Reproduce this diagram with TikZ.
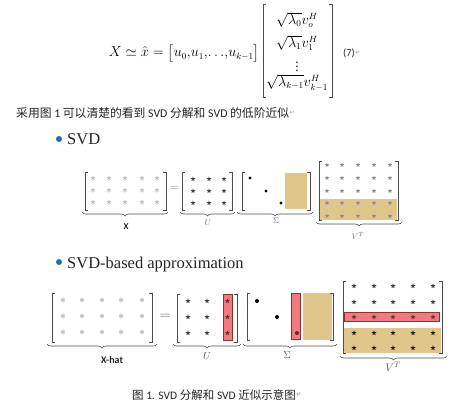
\documentclass[tikz,border=0pt]{standalone}
\usepackage{amsmath}
\usepackage{fontspec}
\setmainfont{Liberation Serif}
\newfontfamily\cjk{Noto Sans CJK SC}
\newfontfamily\calfont{Carlito}
\newfontfamily\symfont{DejaVu Sans}
\usetikzlibrary{shapes.geometric,decorations.pathreplacing}
\definecolor{tan}{RGB}{224,198,138}
\definecolor{redfill}{RGB}{240,122,126}
\definecolor{redline}{RGB}{140,50,50}
\definecolor{bulletblue}{RGB}{30,110,190}
\definecolor{txt}{RGB}{35,35,35}
\newcommand\mybrk[4]{%
  \draw[brk] ({#1+3},#2) -| (#1,#4) -- ({#1+3},#4);
  \draw[brk] ({#3-3},#2) -| (#3,#4) -- ({#3-3},#4);}
\begin{document}
\begin{tikzpicture}[x=1pt,y=-1pt,
  brk/.style={line width=0.6pt, draw=black!70},
  brc/.style={decorate, decoration={brace,mirror,amplitude=4pt}, line width=0.6pt, draw=black!70},
  st/.style={star, star points=5, star point ratio=2.4, fill=black!75, draw=none, inner sep=0pt, minimum size=5.5pt},
  lst/.style={st, fill=black!45, minimum size=4.8pt},
  rst/.style={st, fill=redline!90!black},
  gst/.style={text=black!50, inner sep=0pt, font=\fontsize{11}{11}\selectfont},
  dotm/.style={circle, fill=black, inner sep=0pt, minimum size=3.2pt},
  ret/.style={text=black!45, inner sep=0pt, font=\symfont\fontsize{6}{6}\selectfont, anchor=west},
  eq/.style={font=\fontsize{13.5}{16}\selectfont, inner sep=0pt},
  ent/.style={font=\fontsize{13.5}{15}\selectfont, inner sep=0pt},
  lbl/.style={text=txt, inner sep=0pt}
]
\useasboundingbox (0,0) rectangle (474,412);

% ---------------- equation (7)
\node[eq, anchor=base east] (lhs) at (260,57) {$X \simeq \hat{x} = \bigl[u_0{,}u_1{,}{\ldots}{,}u_{k-1}\bigr]$};
\node[ent] (r0) at (297,20) {$\sqrt{\lambda_0}v_o^H$};
\node[ent] (r1) at (297,43) {$\sqrt{\lambda_1}v_1^H$};
\node[ent] (r2) at (297,64) {$\vdots$};
\node[ent] (r3) at (297,83) {$\sqrt{\lambda_{k-1}}v_{k-1}^H$};
\mybrk{263}{4}{332}{97}
\node[lbl, anchor=west, font=\calfont\fontsize{10.5}{12}\selectfont] (eqno) at (343,53) {(7)};
\node[ret] (ret1) at (eqno.east) {↵};

% ---------------- Chinese line
\node[lbl, anchor=west, font=\calfont\fontsize{11.8}{14}\selectfont] (line1) at (16,113)
  {{\cjk 采用图} 1 {\cjk 可以清楚的看到} SVD {\cjk 分解和} SVD {\cjk 的低阶近似}};
\node[ret] (ret2) at (line1.east) {↵};

% ---------------- bullet SVD
\fill[bulletblue] (59,139) circle (3);
\node[lbl, anchor=base west, font=\fontsize{16.5}{18}\selectfont] (b1) at (67,144.5) {SVD};

% ---- SVD diagram
% X
\mybrk{85}{172}{166}{210}
\foreach \c [count=\i] in {93,109,125,142,157}
  \foreach \r [count=\j] in {179,191,203}
    \node[gst] (xs\i\j) at (\c,\r) {$\ast$};
\draw[brc] (82,212) -- (168,212);
\node[lbl, font=\calfont\bfseries\fontsize{9}{9}\selectfont] (lx) at (126,227) {X};
\node[lbl, text=black!55, font=\fontsize{11}{11}\selectfont] (eq1) at (174,188) {$=$};
% U
\mybrk{182}{172}{232}{210}
\foreach \c [count=\i] in {193,209,224}
  \foreach \r [count=\j] in {179,191,203}
    \node[st, minimum size=5pt] (us\i\j) at (\c,\r) {};
\draw[brc] (180,212) -- (235,212);
\node[lbl, font=\fontsize{8}{8}\selectfont, text=black!60] (lu) at (208,223) {$U$};
% Sigma
\fill[tan] (285,173) rectangle (307,209);
\mybrk{242}{172}{310}{210}
\node[dotm] (sd1) at (250,178) {};
\node[dotm] (sd2) at (266,191) {};
\node[dotm] (sd3) at (281,203) {};
\draw[brc] (237,212) -- (313,212);
\node[lbl, font=\fontsize{8}{8}\selectfont, text=black!60] (ls) at (276,221) {$\Sigma$};
% V^T
\fill[tan] (320,199) rectangle (397,220);
\mybrk{319}{161}{398}{220}
\foreach \c [count=\i] in {327,342,358,374,390}
  \foreach \r [count=\j] in {165,178,191,203,216}
    \node[lst] (vs\i\j) at (\c,\r) {};
\draw[brc] (316,222) -- (402,222);
\node[lbl, font=\fontsize{8}{8}\selectfont, text=black!60] (lv) at (358,236) {$V^T$};

% ---------------- bullet SVD-based approximation
\fill[bulletblue] (59,262) circle (3);
\node[lbl, anchor=base west, font=\fontsize{16.5}{18}\selectfont] (b2) at (67,268) {SVD-based approximation};

% ---- approximation diagram
% X-hat
\mybrk{52}{293}{152}{342}
\foreach \c [count=\i] in {63,82,102,121,142}
  \foreach \r [count=\j] in {301,317,333}
    \node[gst, font=\fontsize{12}{12}\selectfont] (hs\i\j) at (\c,\r) {$\ast$};
\draw[brc] (47,344) -- (157,344);
\node[lbl, font=\calfont\bfseries\fontsize{10}{10}\selectfont] (lxh) at (112,360) {X-hat};
\node[lbl, text=black!60, font=\fontsize{14}{14}\selectfont] (eq2) at (165,317) {$=$};
% U
\filldraw[fill=redfill, draw=redline, line width=0.5pt] (223,294) rectangle (232,340);
\mybrk{177}{294}{237}{342}
\foreach \c [count=\i] in {188,207}
  \foreach \r [count=\j] in {301,317,333}
    \node[st] (ua\i\j) at (\c,\r) {};
\foreach \r [count=\j] in {301,317,333}
    \node[rst] (ur\j) at (227.5,\r) {};
\draw[brc] (173,344) -- (241,344);
\node[lbl, font=\fontsize{10}{10}\selectfont, text=black!65] (lu2) at (207,356) {$U$};
% Sigma
\filldraw[fill=redfill, draw=redline, line width=0.5pt] (291,293) rectangle (300,339);
\fill[tan] (303,293) rectangle (332,340);
\mybrk{247}{293}{333}{340}
\node[dotm, minimum size=4pt] (sa1) at (257,301) {};
\node[dotm, minimum size=4pt] (sa2) at (277,317) {};
\node[dotm, minimum size=4pt, fill=redline!80!black] (sa3) at (297,333) {};
\draw[brc] (243,344) -- (337,344);
\node[lbl, font=\fontsize{10}{10}\selectfont, text=black!65] (ls2) at (287,355) {$\Sigma$};
% V^T
\filldraw[fill=redfill, draw=redline, line width=0.5pt] (344,312) rectangle (439,321);
\fill[tan] (344,328) rectangle (441,353);
\mybrk{343}{281}{442}{353}
\foreach \c [count=\i] in {354,374,393,413,433}{
  \node[st] (va\i1) at (\c,286) {};
  \node[st] (va\i2) at (\c,302) {};
  \node[rst] (va\i3) at (\c,317) {};
  \node[st, fill=black!60!tan!40!black] (va\i4) at (\c,333) {};
  \node[st, fill=black!60!tan!40!black] (va\i5) at (\c,348) {};
}
\draw[brc] (340,356) -- (447,356);
\node[lbl, font=\fontsize{11}{11}\selectfont, text=black!65] (lv2) at (393,367) {$V^T$};

% ---------------- caption
\node[lbl, anchor=west, font=\calfont\fontsize{11.5}{14}\selectfont] (cap) at (132,395)
  {{\cjk 图} 1. SVD {\cjk 分解和} SVD {\cjk 近似示意图}};
\node[ret] (ret3) at (cap.east) {↵};
\end{tikzpicture}
\end{document}
